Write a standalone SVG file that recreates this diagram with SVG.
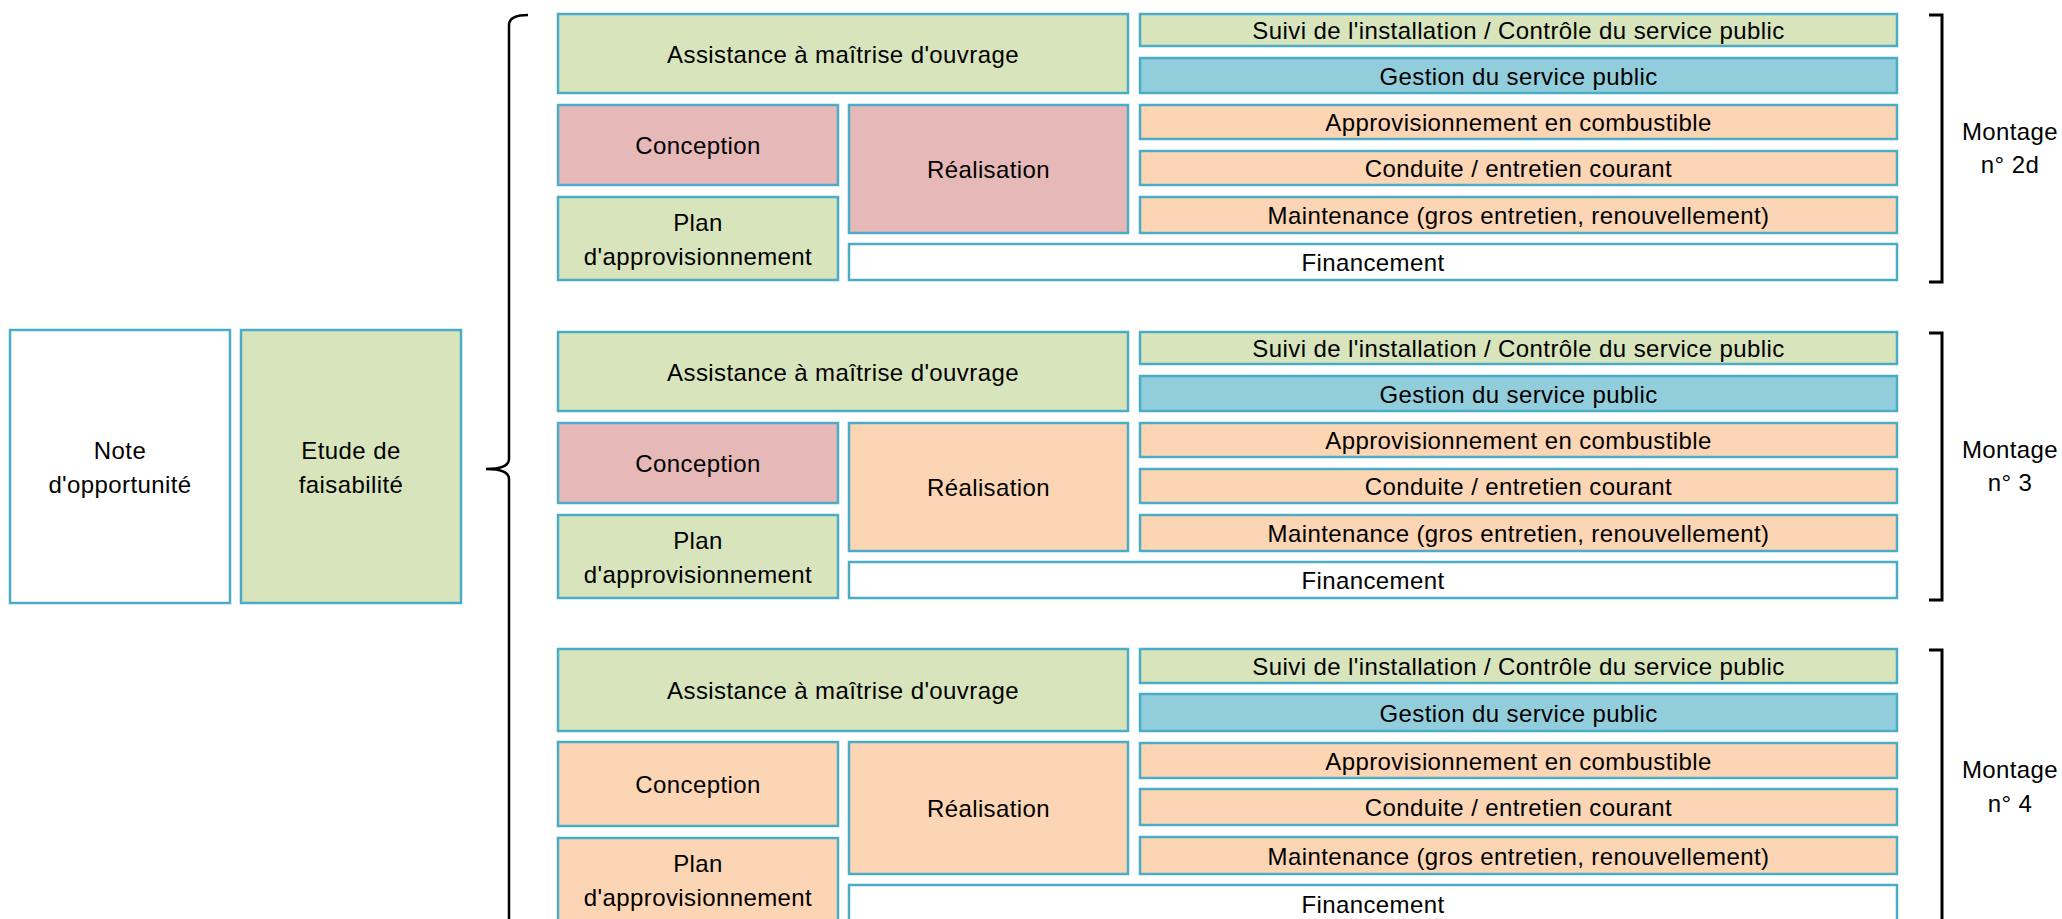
<svg xmlns="http://www.w3.org/2000/svg" width="2062" height="919" viewBox="0 0 2062 919">
<style>
rect{stroke:#4BACC6;stroke-width:2.5}
.g{fill:#D8E4BC}.p{fill:#E6B8B7}.o{fill:#FCD5B4}.b{fill:#92CDDC}.w{fill:#FFFFFF}
text{font-family:"Liberation Sans",Arial,sans-serif;font-size:24px;letter-spacing:0.4px;fill:#000;text-anchor:middle}
.br{fill:none;stroke:#000;stroke-width:3}
</style>
<rect x="0" y="0" width="2062" height="919" style="fill:#fff;stroke:none"/>
<g id="note"><rect class="w" x="10" y="330" width="220" height="273"/><text x="120" y="459">Note</text><text x="120" y="493">d'opportunité</text></g>
<g id="etude"><rect class="g" x="241" y="330" width="220" height="273"/><text x="351" y="459">Etude de</text><text x="351" y="493">faisabilité</text></g>

<g id="connectors">
<path class="br" style="stroke-width:2.5" d="M528,15 Q509,15 509,25 L509,459 Q509,469 486,469 Q509,469 509,479 L509,925"/>
<path class="br" d="M1929,15 H1942 V282 H1929"/>
<path class="br" d="M1929,333 H1942 V600 H1929"/>
<path class="br" d="M1929,650 H1942 V925"/>
</g>

<g id="m2d">
<g id="m2d-amo"><rect class="g" x="558" y="14" width="570" height="79"/><text x="843" y="62.5">Assistance à maîtrise d'ouvrage</text></g>
<g id="m2d-suivi"><rect class="g" x="1140" y="14" width="757" height="32"/><text x="1518.5" y="39">Suivi de l'installation / Contrôle du service public</text></g>
<g id="m2d-gestion"><rect class="b" x="1140" y="58" width="757" height="35"/><text x="1518.5" y="84.5">Gestion du service public</text></g>
<g id="m2d-approv"><rect class="o" x="1140" y="105" width="757" height="34"/><text x="1518.5" y="131">Approvisionnement en combustible</text></g>
<g id="m2d-conduite"><rect class="o" x="1140" y="151" width="757" height="34"/><text x="1518.5" y="177">Conduite / entretien courant</text></g>
<g id="m2d-maint"><rect class="o" x="1140" y="197" width="757" height="36"/><text x="1518.5" y="224">Maintenance (gros entretien, renouvellement)</text></g>
<g id="m2d-fin"><rect class="w" x="849" y="244" width="1048" height="36"/><text x="1373" y="271">Financement</text></g>
<g id="m2d-conception"><rect class="p" x="558" y="105" width="280" height="80"/><text x="698" y="154">Conception</text></g>
<g id="m2d-realisation"><rect class="p" x="849" y="105" width="279" height="128"/><text x="988.5" y="178">Réalisation</text></g>
<g id="m2d-plan"><rect class="g" x="558" y="197" width="280" height="83"/><text x="698" y="230.5">Plan</text><text x="698" y="264.5">d'approvisionnement</text></g>
<g id="m2d-label"><text x="2010" y="140">Montage</text><text x="2010" y="173">n° 2d</text></g>
</g>

<g id="m3">
<g id="m3-amo"><rect class="g" x="558" y="332" width="570" height="79"/><text x="843" y="380.5">Assistance à maîtrise d'ouvrage</text></g>
<g id="m3-suivi"><rect class="g" x="1140" y="332" width="757" height="32"/><text x="1518.5" y="357">Suivi de l'installation / Contrôle du service public</text></g>
<g id="m3-gestion"><rect class="b" x="1140" y="376" width="757" height="35"/><text x="1518.5" y="402.5">Gestion du service public</text></g>
<g id="m3-approv"><rect class="o" x="1140" y="423" width="757" height="34"/><text x="1518.5" y="449">Approvisionnement en combustible</text></g>
<g id="m3-conduite"><rect class="o" x="1140" y="469" width="757" height="34"/><text x="1518.5" y="495">Conduite / entretien courant</text></g>
<g id="m3-maint"><rect class="o" x="1140" y="515" width="757" height="36"/><text x="1518.5" y="542">Maintenance (gros entretien, renouvellement)</text></g>
<g id="m3-fin"><rect class="w" x="849" y="562" width="1048" height="36"/><text x="1373" y="589">Financement</text></g>
<g id="m3-conception"><rect class="p" x="558" y="423" width="280" height="80"/><text x="698" y="472">Conception</text></g>
<g id="m3-realisation"><rect class="o" x="849" y="423" width="279" height="128"/><text x="988.5" y="496">Réalisation</text></g>
<g id="m3-plan"><rect class="g" x="558" y="515" width="280" height="83"/><text x="698" y="548.5">Plan</text><text x="698" y="582.5">d'approvisionnement</text></g>
<g id="m3-label"><text x="2010" y="458">Montage</text><text x="2010" y="491">n° 3</text></g>
</g>

<g id="m4">
<g id="m4-amo"><rect class="g" x="558" y="649" width="570" height="82"/><text x="843" y="699">Assistance à maîtrise d'ouvrage</text></g>
<g id="m4-suivi"><rect class="g" x="1140" y="649" width="757" height="34"/><text x="1518.5" y="675">Suivi de l'installation / Contrôle du service public</text></g>
<g id="m4-gestion"><rect class="b" x="1140" y="694" width="757" height="37"/><text x="1518.5" y="721.5">Gestion du service public</text></g>
<g id="m4-approv"><rect class="o" x="1140" y="743" width="757" height="35"/><text x="1518.5" y="769.5">Approvisionnement en combustible</text></g>
<g id="m4-conduite"><rect class="o" x="1140" y="789" width="757" height="36"/><text x="1518.5" y="816">Conduite / entretien courant</text></g>
<g id="m4-maint"><rect class="o" x="1140" y="837" width="757" height="37"/><text x="1518.5" y="864.5">Maintenance (gros entretien, renouvellement)</text></g>
<g id="m4-fin"><rect class="w" x="849" y="885" width="1048" height="45"/><text x="1373" y="913">Financement</text></g>
<g id="m4-conception"><rect class="o" x="558" y="742" width="280" height="84"/><text x="698" y="793">Conception</text></g>
<g id="m4-realisation"><rect class="o" x="849" y="742" width="279" height="132"/><text x="988.5" y="817">Réalisation</text></g>
<g id="m4-plan"><rect class="o" x="558" y="838" width="280" height="92"/><text x="698" y="872">Plan</text><text x="698" y="906">d'approvisionnement</text></g>
<g id="m4-label"><text x="2010" y="778">Montage</text><text x="2010" y="812">n° 4</text></g>
</g>
</svg>
